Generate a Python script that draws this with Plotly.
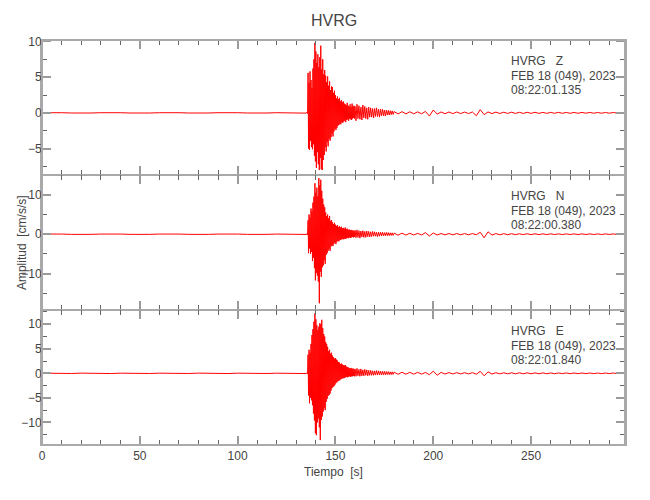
import numpy as np
import plotly.graph_objects as go
from plotly.subplots import make_subplots

# ---------------- sample time grids (s) ----------------
T_PRE = list(range(0, 136, 5))                       # quiet part before onset
T_BURST = [round(v, 2) for v in np.arange(135.5, 160, 0.25)]
T_CODA = [round(v, 2) for v in np.arange(160, 180, 0.5)]
T_TAIL = list(range(180, 299, 2))

# ---------------- Z component (cm/s/s) ----------------
Z_PRE = [0.02, -0.03, 0.02, -0.02, 0.03, -0.02, 0.02, -0.03, 0.02, -0.02,
         0.03, -0.02, 0.02, -0.03, 0.02, -0.02, 0.03, -0.02, 0.02, -0.03,
         0.02, -0.02, 0.03, -0.02, 0.02, -0.03, 0.02, -0.04]
Z_BURST = [0.1, -0.1, 5.6, -5.0, 4.2, -5.2, 5.8, -3.9, 4.6, -4.8,
           3.5, -5.1, 6.2, -4.4, 7.5, -6.0, 9.8, -6.8, 8.6, -7.7,
           7.0, -5.5, 8.2, -7.2, 6.4, -8.0, 7.8, -6.3, 9.4, -7.9,
           6.1, -8.0, 7.5, -6.6, 5.4, -5.9, 6.0, -4.8, 5.2, -5.4,
           4.3, -4.1, 5.1, -4.7, 3.8, -3.6, 4.4, -3.9, 3.2, -3.4,
           3.7, -2.9, 3.6, -3.3, 2.8, -2.6, 3.1, -2.2, 2.5, -2.4,
           2.0, -2.1, 2.3, -1.8, 1.9, -1.7, 2.1, -1.5, 1.6, -1.6,
           1.8, -1.3, 1.5, -1.4, 1.6, -1.2, 1.3, -1.1, 1.2, -1.3,
           1.1, -1.0, 1.4, -0.9, 1.0, -1.1, 0.9, -0.8, 1.2, -0.9,
           0.8, -1.0, 1.3, -0.8, 0.9, -0.7, 1.0, -0.8]
Z_CODA = [0.9, -1.1, 1.2, -0.8, 1.0, -0.9, 0.8, -1.0, 1.1, -0.7,
          0.9, -0.8, 0.7, -0.9, 0.8, -0.6, 0.7, -0.6, 0.6, -0.7,
          0.6, -0.5, 0.7, -0.5, 0.5, -0.6, 0.5, -0.4, 0.5, -0.4,
          0.4, -0.45, 0.35, -0.3, 0.35, -0.3, 0.3, -0.25, 0.28, -0.22]
Z_TAIL = [0.18, -0.15, 0.17, -0.14, 0.15, -0.13, 0.14, -0.13, 0.20, -0.45,
          0.40, -0.18, 0.13, -0.12, 0.12, -0.11, 0.12, -0.10, 0.11, -0.10,
          0.12, -0.40, 0.45, -0.25, 0.13, -0.10, 0.10, -0.09, 0.09, -0.08,
          0.09, -0.08, 0.08, -0.08, 0.08, -0.07, 0.08, -0.07, 0.07, -0.07,
          0.07, -0.06, 0.07, -0.06, 0.06, -0.06, 0.06, -0.06, 0.06, -0.05,
          0.06, -0.05, 0.05, -0.05, 0.05, -0.05, 0.05, -0.04, 0.05, -0.04]

# ---------------- N component ----------------
N_PRE = [0.04, -0.05, 0.04, -0.04, 0.05, -0.04, 0.04, -0.05, 0.04, -0.04,
         0.05, -0.04, 0.04, -0.05, 0.04, -0.04, 0.05, -0.04, 0.04, -0.05,
         0.04, -0.04, 0.05, -0.04, 0.04, -0.05, 0.04, -0.06]
N_BURST = [0.1, -0.2, 3.5, -4.8, 5.0, -3.6, 4.2, -5.0, 6.5, -4.5,
           5.8, -6.8, 8.0, -6.0, 9.5, -8.6, 12.9, -11.7, 10.5, -9.8,
           11.8, -10.5, 9.6, -12.0, 14.2, -17.5, 12.4, -9.5, 13.8, -10.8,
           11.0, -8.4, 9.0, -7.9, 7.5, -6.6, 6.8, -7.5, 5.5, -5.2,
           4.6, -4.8, 5.0, -4.2, 4.0, -3.7, 4.6, -4.2, 3.4, -3.1,
           3.6, -2.8, 3.0, -3.0, 2.6, -2.4, 2.9, -2.1, 2.4, -2.5,
           2.1, -1.9, 2.3, -1.7, 1.8, -1.8, 2.0, -1.5, 1.7, -1.4,
           1.9, -1.3, 1.5, -1.2, 1.6, -1.3, 1.4, -1.1, 1.7, -1.2,
           1.3, -1.0, 1.4, -0.9, 1.1, -1.0, 1.2, -0.8, 1.0, -0.9,
           1.1, -0.8, 0.9, -0.7, 1.0, -0.8, 0.8, -0.7]
N_CODA = [1.0, -0.9, 1.1, -0.8, 0.9, -1.0, 0.8, -0.7, 0.9, -0.8,
          0.7, -0.8, 0.8, -0.6, 0.7, -0.7, 0.6, -0.6, 0.7, -0.5,
          0.6, -0.5, 0.5, -0.6, 0.5, -0.5, 0.5, -0.4, 0.5, -0.4,
          0.4, -0.4, 0.45, -0.35, 0.4, -0.35, 0.35, -0.3, 0.35, -0.3]
N_TAIL = [0.28, -0.25, 0.26, -0.22, 0.24, -0.20, 0.22, -0.20, 0.40, -0.45,
          0.30, -0.20, 0.18, -0.16, 0.17, -0.15, 0.16, -0.14, 0.15, -0.14,
          0.15, -0.14, 0.50, -0.90, 0.60, -0.22, 0.16, -0.15, 0.14, -0.13,
          0.13, -0.12, 0.12, -0.11, 0.12, -0.11, 0.11, -0.10, 0.10, -0.10,
          0.10, -0.09, 0.09, -0.09, 0.09, -0.08, 0.08, -0.08, 0.08, -0.07,
          0.08, -0.07, 0.07, -0.07, 0.07, -0.06, 0.07, -0.06, 0.06, -0.06]

# ---------------- E component ----------------
E_PRE = [0.03, -0.04, 0.03, -0.03, 0.04, -0.03, 0.03, -0.04, 0.03, -0.03,
         0.04, -0.03, 0.03, -0.04, 0.03, -0.03, 0.04, -0.03, 0.03, -0.04,
         0.03, -0.03, 0.04, -0.03, 0.03, -0.04, 0.03, -0.05]
E_BURST = [0.1, -0.1, 3.8, -4.5, 4.8, -6.1, 4.2, -5.0, 6.0, -5.5,
           7.8, -6.5, 9.0, -8.2, 10.5, -9.6, 12.2, -12.2, 11.0, -12.6,
           9.8, -10.0, 8.8, -9.2, 9.5, -11.0, 10.2, -13.6, 10.0, -9.5,
           10.9, -8.8, 9.2, -7.8, 8.0, -7.0, 7.5, -7.5, 6.4, -5.8,
           6.0, -5.2, 5.4, -4.6, 4.5, -4.4, 4.8, -4.1, 4.0, -3.5,
           4.2, -3.0, 3.6, -2.8, 3.3, -2.6, 3.0, -2.3, 3.1, -2.0,
           2.8, -1.8, 2.6, -1.6, 2.3, -1.5, 2.2, -1.4, 1.9, -1.2,
           2.0, -1.1, 1.8, -1.0, 1.7, -1.0, 1.6, -0.9, 1.7, -0.8,
           1.4, -0.7, 1.3, -0.8, 1.2, -0.7, 1.1, -0.6, 1.0, -0.7,
           1.1, -0.6, 0.9, -0.6, 1.0, -0.5, 0.8, -0.6]
E_CODA = [0.9, -0.6, 1.0, -0.5, 0.8, -0.6, 0.9, -0.5, 0.7, -0.5,
          0.8, -0.4, 0.7, -0.5, 0.6, -0.4, 0.6, -0.4, 0.5, -0.4,
          0.5, -0.35, 0.55, -0.35, 0.5, -0.3, 0.45, -0.3, 0.4, -0.3,
          0.4, -0.3, 0.35, -0.25, 0.35, -0.25, 0.3, -0.25, 0.3, -0.22]
E_TAIL = [0.24, -0.20, 0.22, -0.18, 0.20, -0.17, 0.19, -0.16, 0.18, -0.28,
          0.45, -0.40, 0.20, -0.14, 0.15, -0.13, 0.14, -0.12, 0.13, -0.12,
          0.14, -0.18, 0.40, -0.50, 0.30, -0.15, 0.13, -0.11, 0.12, -0.10,
          0.11, -0.10, 0.10, -0.09, 0.10, -0.09, 0.09, -0.08, 0.09, -0.08,
          0.08, -0.08, 0.08, -0.07, 0.08, -0.07, 0.07, -0.07, 0.07, -0.06,
          0.07, -0.06, 0.06, -0.06, 0.06, -0.05, 0.06, -0.05, 0.05, -0.05]

CHANNELS = ["Z", "N", "E"]
START_TIMES = ["08:22:01.135", "08:22:00.380", "08:22:01.840"]
STATION = "HVRG"
DATE_LABEL = "FEB 18 (049), 2023"
Y_RANGES = [[-8.7, 10.2], [-19.2, 15.0], [-14.6, 12.9]]
Y_DTICK = [5, 10, 5]
Y_MINOR = [2.5, 5, 2.5]
X_RANGE = [0, 298]
X_TICKS = [0, 50, 100, 150, 200, 250]

series = [
    (Z_PRE, Z_BURST, Z_CODA, Z_TAIL),
    (N_PRE, N_BURST, N_CODA, N_TAIL),
    (E_PRE, E_BURST, E_CODA, E_TAIL),
]
grids = (T_PRE, T_BURST, T_CODA, T_TAIL)

FONT = "Liberation Sans, Arial, sans-serif"
AXC = "#a9a9a9"
TXT = "#444444"

fig = make_subplots(rows=3, cols=1, shared_xaxes=True, vertical_spacing=0)

for i, parts in enumerate(series):
    ts, vals = [], []
    for seg_t, seg_v in zip(grids, parts):
        n = min(len(seg_t), len(seg_v))
        ts += list(seg_t[:n])
        vals += list(seg_v[:n])
    fig.add_trace(go.Scatter(x=ts, y=vals, mode="lines",
                             line=dict(color="#ff0000", width=1),
                             showlegend=False, hoverinfo="skip"),
                  row=i + 1, col=1)

for i in range(3):
    r = i + 1
    fig.update_xaxes(row=r, col=1, range=X_RANGE, showline=True, linecolor=AXC,
                     linewidth=1, mirror="allticks", ticks="inside", ticklen=9,
                     tickwidth=2, tickcolor="#9a9a9a", tickmode="array",
                     tickvals=X_TICKS, showgrid=False, zeroline=False,
                     showticklabels=(r == 3), automargin=False,
                     tickfont=dict(family=FONT, size=12, color=TXT),
                     minor=dict(dtick=10, tick0=0, ticks="inside", ticklen=5,
                                tickwidth=1, tickcolor="#666666", showgrid=False))
    fig.update_yaxes(row=r, col=1, range=Y_RANGES[i], showline=True, linecolor=AXC,
                     linewidth=2, mirror="allticks", ticks="inside", ticklen=9,
                     tickwidth=2, tickcolor="#9a9a9a", dtick=Y_DTICK[i], tick0=0,
                     showgrid=False, zeroline=False, automargin=False,
                     ticklabelstandoff=-4,
                     tickfont=dict(family=FONT, size=12, color=TXT),
                     minor=dict(dtick=Y_MINOR[i], tick0=0, ticks="inside", ticklen=5,
                                tickwidth=1, tickcolor="#666666", showgrid=False))

annotations = []
line_pos = [0.841, 0.733, 0.626]
for i in range(3):
    yref = "y domain" if i == 0 else f"y{i + 1} domain"
    xref = "x" if i == 0 else f"x{i + 1}"
    lines = [STATION + "\u00a0\u00a0\u00a0" + CHANNELS[i], DATE_LABEL, START_TIMES[i]]
    for txt, yp in zip(lines, line_pos):
        annotations.append(dict(text=txt, xref=xref, yref=yref, x=238.5, y=yp,
                                xanchor="left", yanchor="middle", showarrow=False,
                                font=dict(family=FONT, size=12, color=TXT)))

annotations.append(dict(text=STATION, xref="paper", yref="paper", x=0.5, y=1.049,
                        xanchor="center", yanchor="middle", showarrow=False,
                        font=dict(family=FONT, size=16, color=TXT)))
annotations.append(dict(text="Tiempo\u00a0\u00a0[s]", xref="paper", yref="paper", x=0.5,
                        y=-0.067, xanchor="center", yanchor="middle", showarrow=False,
                        font=dict(family=FONT, size=12, color=TXT)))
annotations.append(dict(text="Amplitud\u00a0\u00a0[cm/s/s]", xref="paper", yref="paper",
                        x=-0.034, y=0.499, xanchor="center", yanchor="middle",
                        textangle=-90, showarrow=False,
                        font=dict(family=FONT, size=12, color=TXT)))

fig.update_layout(width=650, height=500, autosize=False,
                  margin=dict(l=42, r=25, t=40, b=55),
                  paper_bgcolor="white", plot_bgcolor="white",
                  annotations=annotations, showlegend=False,
                  shapes=[dict(type="rect", xref="paper", yref="paper", x0=0, x1=1,
                               y0=0, y1=1, line=dict(color=AXC, width=2),
                               fillcolor="rgba(0,0,0,0)", layer="above")],
                  font=dict(family=FONT, color=TXT))

fig.write_html("out.html", post_script="document.body.style.margin='0';",
               config={"displayModeBar": False})
